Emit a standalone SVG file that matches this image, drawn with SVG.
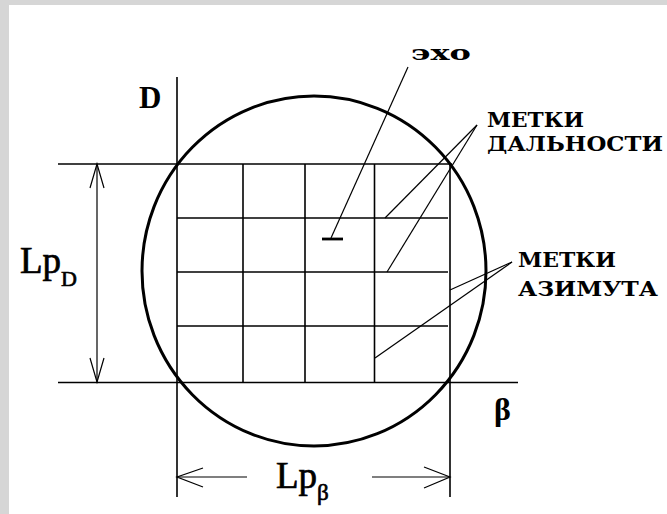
<svg xmlns="http://www.w3.org/2000/svg" width="667" height="514" viewBox="0 0 667 514">
<style>
.ln{stroke:#000;stroke-width:1.6;fill:none}
.ld{stroke:#000;stroke-width:1.2;fill:none}
.ru{font-family:"DejaVu Serif","Liberation Serif",serif;font-weight:bold;font-size:21px;fill:#000}
.tm{font-family:"Liberation Serif","Times New Roman",serif;font-weight:normal;fill:#000;stroke:#000;stroke-width:0.7}
.tb{font-family:"Liberation Serif","Times New Roman",serif;font-weight:bold;fill:#000}
</style>
<rect x="0" y="0" width="667" height="514" fill="#d6d6d6"/>
<rect x="9" y="5" width="658" height="509" fill="#fff"/>
<g id="grid">
<line class="ln" x1="177" y1="77" x2="177" y2="497"/>
<line class="ln" x1="450" y1="164" x2="450" y2="497"/>
<line class="ln" x1="243" y1="164" x2="243" y2="382"/>
<line class="ln" x1="305" y1="164" x2="305" y2="382"/>
<line class="ln" x1="374.5" y1="164" x2="374.5" y2="382"/>
<line class="ln" x1="58" y1="164" x2="452" y2="164"/>
<line class="ln" x1="177" y1="218" x2="448" y2="218"/>
<line class="ln" x1="177" y1="272" x2="448" y2="272"/>
<line class="ln" x1="177" y1="326" x2="448" y2="326"/>
<line class="ln" x1="58" y1="382.5" x2="518" y2="382.5"/>
</g>
<g id="circle">
<ellipse cx="314" cy="271" rx="172" ry="175" fill="none" stroke="#000" stroke-width="3"/>
</g>
<g id="echo">
<line x1="322" y1="239" x2="343" y2="239" stroke="#000" stroke-width="2.8"/>
</g>
<g id="connectors">
<line class="ld" x1="408" y1="67" x2="331" y2="238"/>
<line class="ld" x1="477" y1="125" x2="385" y2="218"/>
<line class="ld" x1="477" y1="125" x2="387" y2="272"/>
<line class="ld" x1="512" y1="262" x2="450" y2="290"/>
<line class="ld" x1="512" y1="262" x2="375" y2="358"/>
</g>
<g id="dim-D">
<line class="ld" x1="97" y1="164" x2="97" y2="382"/>
<polyline class="ld" points="90,188 97,164 104,188"/>
<polyline class="ld" points="90,358 97,382 104,358"/>
</g>
<g id="dim-B">
<line class="ld" x1="177" y1="477" x2="247" y2="477"/>
<line class="ld" x1="372" y1="477" x2="450" y2="477"/>
<polyline class="ld" points="203,468 177,477 203,487"/>
<polyline class="ld" points="424,467 450,477 424,488"/>
</g>
<g id="labels">
<text class="tb" x="139" y="108" font-size="31">D</text>
<text class="tb" x="494" y="420" font-size="32">β</text>
<text class="tm" x="20" y="273" font-size="37">Lp<tspan font-size="22" dy="13">D</tspan></text>
<text class="tm" x="276" y="488" font-size="37">Lp<tspan font-size="23" dy="12">β</tspan></text>
<text class="ru" x="411" y="60" font-size="28" textLength="60" lengthAdjust="spacingAndGlyphs">эхо</text>
<text class="ru" x="487" y="127" textLength="97" lengthAdjust="spacingAndGlyphs">МЕТКИ</text>
<text class="ru" x="487" y="151" textLength="176" lengthAdjust="spacingAndGlyphs">ДАЛЬНОСТИ</text>
<text class="ru" x="518" y="267" textLength="98" lengthAdjust="spacingAndGlyphs">МЕТКИ</text>
<text class="ru" x="518" y="296" textLength="140" lengthAdjust="spacingAndGlyphs">АЗИМУТА</text>
</g>
</svg>
